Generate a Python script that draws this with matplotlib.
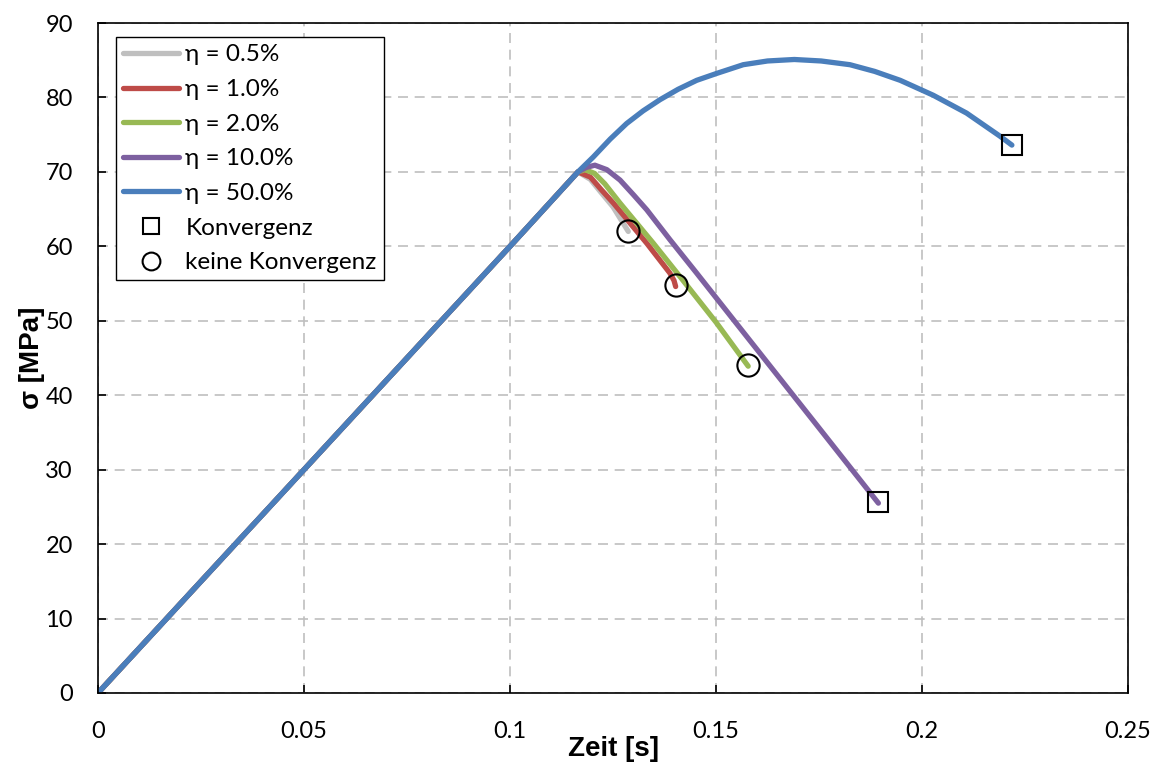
import numpy as np
import matplotlib.pyplot as plt

# Spannung ueber Zeit fuer verschiedene Daempfungen eta
# gemeinsamer linearer Anstieg
t_lin = [0.0, 0.05, 0.1, 0.1165]
s_lin = [0.0, 30.0, 60.0, 70.0]

# Verlauf nach dem Abzweig
t_05 = [0.1195, 0.122, 0.125, 0.1287]
s_05 = [69.0, 67.3, 65.3, 62.0]

t_10 = [0.1195, 0.122, 0.1251, 0.1332, 0.1388, 0.1398, 0.1402]
s_10 = [69.3, 67.7, 65.8, 60.4, 56.4, 55.4, 54.6]

t_20 = [0.1182, 0.1205, 0.123, 0.1267, 0.1348, 0.1413, 0.150, 0.1578]
s_20 = [70.3, 69.8, 68.4, 65.8, 60.4, 55.9, 49.8, 43.9]

t_100 = [0.1185, 0.1206, 0.1235, 0.1267, 0.130, 0.1332, 0.1388, 0.1453, 0.155, 0.165, 0.175, 0.1894]
s_100 = [70.6, 70.9, 70.3, 68.9, 66.9, 64.9, 60.9, 56.4, 49.6, 42.6, 35.6, 25.5]

t_500 = [0.1202, 0.1243, 0.1283, 0.1323, 0.1364, 0.1408, 0.1453, 0.150, 0.1566, 0.1625,
         0.169, 0.1755, 0.1825, 0.1885, 0.1947, 0.2027, 0.2108, 0.2189, 0.2218]
s_500 = [72.0, 74.4, 76.5, 78.2, 79.7, 81.1, 82.3, 83.2, 84.4, 84.9,
         85.1, 84.9, 84.4, 83.5, 82.3, 80.3, 77.9, 74.8, 73.6]

# Endpunkte
t_konv = [0.1894, 0.2218]
s_konv = [25.7, 73.6]
t_keine = [0.1287, 0.1402, 0.1578]
s_keine = [62.0, 54.8, 44.0]

serien = [
    ("η = 0.5%", t_05, s_05, '#BFBFBF'),
    ("η = 1.0%", t_10, s_10, '#BE4B48'),
    ("η = 2.0%", t_20, s_20, '#98B954'),
    ("η = 10.0%", t_100, s_100, '#7D60A0'),
    ("η = 50.0%", t_500, s_500, '#4A7EBB'),
]

fig = plt.figure(figsize=(11.57, 7.62), dpi=100)
ax = fig.add_axes([0.0847, 0.0906, 0.8903, 0.8792])

for name, t, s, c in serien:
    ax.plot(t_lin + t, s_lin + s, color=c, lw=3.8, label=name,
            solid_capstyle='round', solid_joinstyle='round')

ax.plot(t_konv, s_konv, 's', ms=15, mfc='none', mec='black', mew=1.5, label='Konvergenz')
ax.plot(t_keine, s_keine, 'o', ms=16, mfc='none', mec='black', mew=1.5, label='keine Konvergenz')

ax.set_xlim(0, 0.25)
ax.set_ylim(0, 90)
ax.set_xticks([0, 0.05, 0.1, 0.15, 0.2, 0.25])
ax.set_xticklabels(['0', '0.05', '0.1', '0.15', '0.2', '0.25'])
ax.set_yticks(range(0, 91, 10))

ax.grid(True, color='#BFBFBF', ls=(0, (6, 4)), lw=1.2)
ax.set_axisbelow(True)
for sp in ax.spines.values():
    sp.set_color('black')
    sp.set_linewidth(1.2)

ax.tick_params(direction='in', length=6, width=1.2, labelsize=17)
ax.tick_params(axis='y', pad=18)
ax.tick_params(axis='x', pad=20)
for lab in ax.get_xticklabels() + ax.get_yticklabels():
    lab.set_family(['Lato', 'DejaVu Sans'])

ax.set_xlabel('Zeit [s]', fontsize=20, fontweight='bold', family='Liberation Sans', labelpad=-4)
ax.set_ylabel('σ [MPa]', fontsize=20, fontweight='bold', family='Liberation Sans', labelpad=0)

leg = ax.legend(loc='upper left', bbox_to_anchor=(0.0175, 0.979), borderaxespad=0,
                prop={'family': ['Lato', 'DejaVu Sans'], 'size': 17.5},
                fancybox=False, framealpha=1, edgecolor='black',
                handlelength=2.3, handletextpad=0.25, labelspacing=0.56,
                borderpad=0.3, markerscale=0.8)
leg.get_frame().set_linewidth(1.0)

fig.savefig('out.png', dpi=100)
